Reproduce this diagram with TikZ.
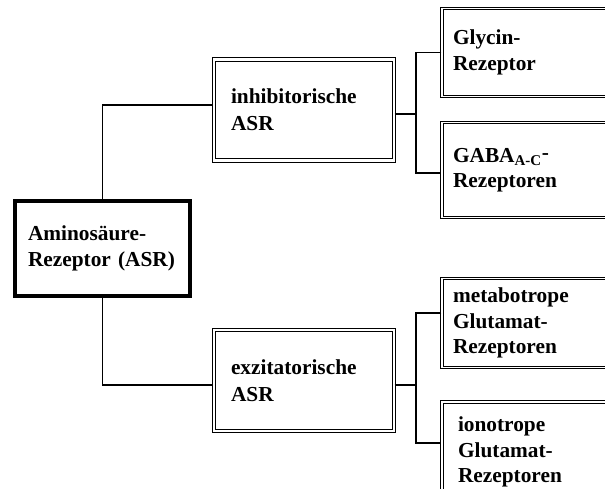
\documentclass[tikz,border=0pt]{standalone}
\usepackage{fontspec}
\setmainfont{Liberation Serif}
\begin{document}
\begin{tikzpicture}[x=0.75pt,y=-0.75pt,
  mainbox/.style={draw=black,line width=3pt,rectangle,inner sep=0pt,align=left,
    font=\bfseries\fontsize{16}{20}\selectfont},
  midbox/.style={draw=black,double=white,double distance=1.6pt,line width=0.8pt,rectangle,inner sep=0pt,align=left,
    minimum width=180*0.75pt,minimum height=101*0.75pt,text width=146*0.75pt,
    font=\bfseries\fontsize{16}{20}\selectfont},
  leafbox/.style={draw=black,double=white,double distance=0.9pt,line width=0.8pt,rectangle,inner sep=0pt,align=left,
    minimum width=200*0.75pt,text width=178*0.75pt,
    font=\bfseries\fontsize{16}{19}\selectfont},
  conn/.style={draw=black,line width=1.1pt}]
\useasboundingbox (0,0) rectangle (605,488);

\node[mainbox,minimum width=175*0.75pt,minimum height=95*0.75pt,text width=149*0.75pt] (asr) at (102.5,248.5)
  {Aminosäure-\\Rezeptor (ASR)};

\node[midbox] (inh) at (304,110) {inhibitorische\\ASR};
\node[midbox] (exz) at (304,380.5) {exzitatorische\\ASR};

\node[leafbox,minimum height=88*0.75pt] (gly) at (542,52.5) {Glycin-\\Rezeptor};
\node[leafbox,minimum height=95*0.75pt] (gaba) at (542,170) {GABA\textsubscript{A-C}\raisebox{0.25ex}{-}\\Rezeptoren};
\node[leafbox,minimum height=89*0.75pt] (met) at (542,323) {metabotrope\\Glutamat-\\Rezeptoren};
\node[leafbox,minimum height=100*0.75pt,text width=168*0.75pt] (ion) at (542,452) {ionotrope\\Glutamat-\\Rezeptoren};

\coordinate (bus) at (416,0);

\draw[conn] (asr.north) |- ([yshift=3.75pt]inh.west);
\draw[conn] (asr.south) |- ([yshift=-3.4pt]exz.west);

\draw[conn] ([yshift=-3pt]inh.east) -- ([yshift=-3pt]inh.east -| bus);
\draw[conn] (gly.west) -- (gly.west -| bus) -- ([yshift=-2.2pt]gaba.west -| bus) -- ([yshift=-2.2pt]gaba.west);

\draw[conn] ([yshift=-3.4pt]exz.east) -- ([yshift=-3.4pt]exz.east -| bus);
\draw[conn] ([yshift=7.5pt]met.west) -- ([yshift=7.5pt]met.west -| bus) -- ([yshift=6.75pt]ion.west -| bus) -- ([yshift=6.75pt]ion.west);
\end{tikzpicture}
\end{document}
